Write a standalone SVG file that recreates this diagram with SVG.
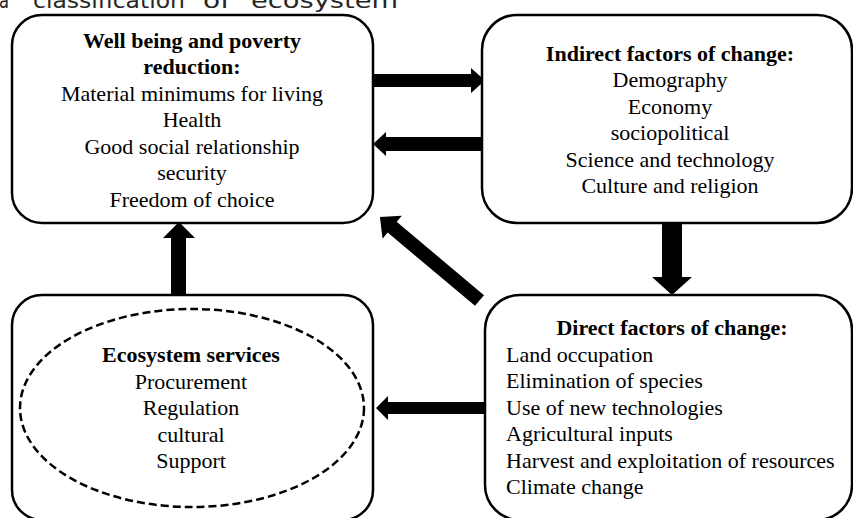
<svg xmlns="http://www.w3.org/2000/svg" width="853" height="518" viewBox="0 0 853 518">
  <style>
    .box { fill: #ffffff; stroke: #000000; stroke-width: 2.5; }
    .ell { fill: none; stroke: #000000; stroke-width: 2.5; stroke-dasharray: 8 4; }
    .t { font-family: "Liberation Serif", "Times New Roman", serif; font-size: 22px; fill: #000000; }
    .c { text-anchor: middle; }
    .b { font-weight: bold; }
    .cap { font-family: "DejaVu Sans", "Liberation Sans", sans-serif; font-size: 22px; fill: #262626; }
    .arr { fill: #000000; stroke: none; }
  </style>
  <rect width="853" height="518" fill="#ffffff"/>

  <g id="caption">
    <text class="cap" x="-1" y="8" textLength="10" lengthAdjust="spacingAndGlyphs">a</text>
    <text class="cap" x="33" y="8" textLength="152" lengthAdjust="spacingAndGlyphs">classification</text>
    <text class="cap" x="203" y="8" textLength="27" lengthAdjust="spacingAndGlyphs">of</text>
    <text class="cap" x="251" y="8" textLength="147" lengthAdjust="spacingAndGlyphs">ecosystem</text>
  </g>

  <g id="connectors">
    <polygon class="arr" points="374,74 471,74 471,68 485,80.5 471,93 471,87 374,87"/>
    <polygon class="arr" points="482,137 386,137 386,132 373,144 386,156 386,151 482,151"/>
    <polygon class="arr" points="662,223 682,223 682,277 692,277 672,295 652,277 662,277"/>
    <polygon class="arr" points="171,295 171,238 163,238 179,222 195,238 186,238 186,295"/>
    <polygon class="arr" points="485,402 388,402 388,396 376,408 388,420 388,414 485,414"/>
    <polygon class="arr" transform="translate(479.5,300.5) rotate(220)" points="0,-7 114,-7 114,-15 130,0 114,15 114,7 0,7"/>
  </g>

  <g id="wellbeing">
    <rect class="box" x="12" y="15" width="361" height="208" rx="30" ry="30"/>
    <text class="t c b" x="192" y="47.5">Well being and poverty</text>
    <text class="t c b" x="192" y="74">reduction:</text>
    <text class="t c" x="192" y="100.5">Material minimums for living</text>
    <text class="t c" x="192" y="127">Health</text>
    <text class="t c" x="192" y="153.5">Good social relationship</text>
    <text class="t c" x="192" y="180">security</text>
    <text class="t c" x="192" y="206.5">Freedom of choice</text>
  </g>

  <g id="indirect">
    <rect class="box" x="482" y="15" width="370" height="208" rx="35" ry="35"/>
    <text class="t c b" x="670" y="60.5">Indirect factors of change:</text>
    <text class="t c" x="670" y="87">Demography</text>
    <text class="t c" x="670" y="113.5">Economy</text>
    <text class="t c" x="670" y="140">sociopolitical</text>
    <text class="t c" x="670" y="166.5">Science and technology</text>
    <text class="t c" x="670" y="193">Culture and religion</text>
  </g>

  <g id="services">
    <rect class="box" x="12" y="295" width="361" height="225" rx="30" ry="30"/>
    <ellipse class="ell" cx="192" cy="408" rx="172" ry="99"/>
    <text class="t c b" x="191" y="362">Ecosystem services</text>
    <text class="t c" x="191" y="388.5">Procurement</text>
    <text class="t c" x="191" y="415">Regulation</text>
    <text class="t c" x="191" y="441.5">cultural</text>
    <text class="t c" x="191" y="468">Support</text>
  </g>

  <g id="direct">
    <rect class="box" x="485" y="295" width="367" height="225" rx="35" ry="35"/>
    <text class="t c b" x="672" y="335">Direct factors of change:</text>
    <text class="t" x="506" y="361.5">Land occupation</text>
    <text class="t" x="506" y="388">Elimination of species</text>
    <text class="t" x="506" y="414.5">Use of new technologies</text>
    <text class="t" x="506" y="441">Agricultural inputs</text>
    <text class="t" x="506" y="467.5">Harvest and exploitation of resources</text>
    <text class="t" x="506" y="494">Climate change</text>
  </g>
</svg>
